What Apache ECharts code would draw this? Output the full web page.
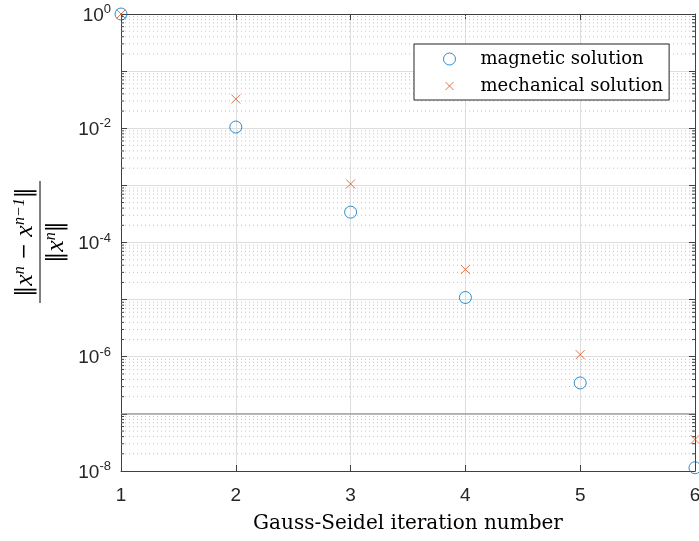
<!DOCTYPE html>
<html>
<head>
<meta charset="utf-8">
<script src="https://cdn.jsdelivr.net/npm/echarts@6/dist/echarts.min.js"></script>
<style>
  html, body { margin: 0; padding: 0; background: #fff; }
  #main { width: 699px; height: 541px; }
</style>
</head>
<body>
<div id="main"></div>
<script>
// iteration numbers on the x axis
const iterations = [1, 2, 3, 4, 5, 6]
// relative change ||x^n - x^(n-1)|| / ||x^n||
const magnetic = [1, 1.05e-2, 3.4e-4, 1.09e-5, 3.48e-7, 1.14e-8]
const mechanical = [1, 3.25e-2, 1.06e-3, 3.37e-5, 1.09e-6, 3.56e-8]
// tolerance line
const tolerance = 1e-7
// decades of the y axis, labels shown on even ones
const decades = [-8, -7, -6, -5, -4, -3, -2, -1, 0]

const axisColor = '#404040'
const labelColor = '#262626'
const sans = 'Liberation Sans, Arial, sans-serif'
const serif = 'DejaVu Serif, serif'
const mathSerif = 'Liberation Serif, serif'

// minor grid values 2..9 x 10^k
let minorValues = []
decades.slice(0, -1).forEach(function (d) {
  for (let m = 2; m <= 9; m++) minorValues.push([iterations[0], m * Math.pow(10, d)])
})

const xMin = iterations[0]
const xMax = iterations[iterations.length - 1]

const chart = echarts.init(document.getElementById('main'), null, { renderer: 'canvas' })

const option = {
  backgroundColor: '#fff',
  animation: false,
  grid: { left: 121, right: 4, top: 14, bottom: 70, containLabel: false, outerBoundsMode: 'none' },
  legend: {
    orient: 'vertical',
    left: 414,
    top: 44,
    padding: [6, 6, 5, 27],
    itemGap: 9,
    itemWidth: 12,
    itemHeight: 12,
    backgroundColor: '#fff',
    borderColor: '#262626',
    borderWidth: 1,
    borderRadius: 0,
    itemStyle: { borderWidth: 1 },
    textStyle: { fontFamily: serif, fontSize: 18, lineHeight: 18, color: '#000', padding: [0, 0, 0, 20] },
    data: [
      { name: 'magnetic solution', icon: 'circle' },
      { name: 'mechanical solution', icon: 'path://M0,0M2,2L10,10M10,2L2,10M12,12' }
    ]
  },
  xAxis: [{
    type: 'value',
    min: xMin,
    max: xMax,
    interval: 1,
    name: 'Gauss-Seidel iteration number',
    nameLocation: 'middle',
    nameGap: 43,
    nameTextStyle: { fontFamily: serif, fontSize: 20, color: '#000' },
    axisLine: { show: true, onZero: false, lineStyle: { color: axisColor, width: 1 } },
    axisTick: { show: true, inside: true, length: 6, lineStyle: { color: axisColor } },
    axisLabel: { fontFamily: sans, fontSize: 19, color: labelColor, margin: 15 },
    splitLine: { show: true, lineStyle: { color: '#dedede', width: 1 } }
  }, {
    type: 'value',
    position: 'top',
    min: xMin,
    max: xMax,
    interval: 1,
    axisLine: { show: true, onZero: false, lineStyle: { color: axisColor, width: 1 } },
    axisTick: { show: true, inside: true, length: 6, lineStyle: { color: axisColor } },
    axisLabel: { show: false },
    splitLine: { show: false }
  }],
  yAxis: [{
    type: 'log',
    logBase: 10,
    min: 1e-8,
    max: 1,
    splitNumber: 8,
    axisLine: { show: true, onZero: false, lineStyle: { color: axisColor, width: 1 } },
    axisTick: { show: true, inside: true, length: 6, lineStyle: { color: axisColor } },
    axisLabel: {
      margin: 10,
      color: labelColor,
      formatter: function (v) {
        const e = Math.round(Math.log10(v))
        return e % 2 === 0 ? '{b|10}{e|' + e + '}' : ''
      },
      rich: {
        b: { fontFamily: sans, fontSize: 19, color: labelColor, lineHeight: 22, verticalAlign: 'bottom' },
        e: { fontFamily: sans, fontSize: 13, color: labelColor, verticalAlign: 'top' }
      }
    },
    splitLine: { show: true, lineStyle: { color: '#dedede', width: 1 } }
  }, {
    type: 'log',
    logBase: 10,
    min: 1e-8,
    max: 1,
    splitNumber: 8,
    position: 'right',
    axisLine: { show: true, onZero: false, lineStyle: { color: axisColor, width: 1 } },
    axisTick: { show: true, inside: true, length: 6, lineStyle: { color: axisColor } },
    axisLabel: { show: false },
    splitLine: { show: false }
  }],
  graphic: [{
    // y axis title: the fraction, rotated to read bottom to top
    type: 'group',
    x: 40,
    y: 242,
    rotation: Math.PI / 2,
    children: [{
      type: 'text',
      x: 0,
      y: -15,
      style: {
        text: '{v|‖}{x|x}{s|n}{m| − }{x|x}{s|n−1}{v|‖}',
        align: 'center',
        verticalAlign: 'middle',
        rich: {
          v: { fontFamily: serif, fontSize: 22, fill: '#000' },
          x: { fontFamily: mathSerif, fontStyle: 'italic', fontSize: 26, fill: '#000' },
          s: { fontFamily: mathSerif, fontStyle: 'italic', fontSize: 16, fill: '#000', verticalAlign: 'top' },
          m: { fontFamily: serif, fontSize: 20, fill: '#000' }
        }
      }
    }, {
      type: 'line',
      shape: { x1: -61, y1: 0, x2: 61, y2: 0 },
      style: { stroke: '#000', lineWidth: 1 }
    }, {
      type: 'text',
      x: 0,
      y: 16,
      style: {
        text: '{v|‖}{x|x}{s|n}{v|‖}',
        align: 'center',
        verticalAlign: 'middle',
        rich: {
          v: { fontFamily: serif, fontSize: 22, fill: '#000' },
          x: { fontFamily: mathSerif, fontStyle: 'italic', fontSize: 26, fill: '#000' },
          s: { fontFamily: mathSerif, fontStyle: 'italic', fontSize: 16, fill: '#000', verticalAlign: 'top' }
        }
      }
    }]
  }],
  series: [{
    // minor grid lines and minor ticks
    type: 'custom',
    silent: true,
    z: 1,
    clip: false,
    data: minorValues,
    encode: { x: 0, y: 1 },
    renderItem: function (params, api) {
      const v = api.value(1)
      const p1 = api.coord([xMin, v])
      const p2 = api.coord([xMax, v])
      return {
        type: 'group',
        children: [{
          type: 'line',
          shape: { x1: p1[0], y1: p1[1], x2: p2[0], y2: p2[1] },
          style: { stroke: '#c4c4c4', lineWidth: 1, lineDash: [1, 3] }
        }, {
          type: 'line',
          shape: { x1: p1[0], y1: p1[1], x2: p1[0] + 3, y2: p1[1] },
          style: { stroke: axisColor, lineWidth: 1 }
        }, {
          type: 'line',
          shape: { x1: p2[0], y1: p2[1], x2: p2[0] - 3, y2: p2[1] },
          style: { stroke: axisColor, lineWidth: 1 }
        }]
      }
    }
  }, {
    // tolerance line across the plot
    type: 'line',
    silent: true,
    z: 3,
    symbol: 'none',
    lineStyle: { color: '#7f7f7f', width: 1 },
    data: [[xMin, tolerance], [xMax, tolerance]]
  }, {
    name: 'magnetic solution',
    type: 'scatter',
    clip: false,
    z: 5,
    symbol: 'circle',
    symbolSize: 12,
    itemStyle: { color: 'rgba(0,0,0,0)', borderColor: '#0072BD', borderWidth: 1 },
    data: iterations.map(function (it, i) { return [it, magnetic[i]] })
  }, {
    name: 'mechanical solution',
    type: 'scatter',
    clip: false,
    z: 5,
    symbol: 'path://M0,0L10,10M10,0L0,10',
    symbolSize: 9,
    symbolKeepAspect: true,
    itemStyle: { color: 'none', borderColor: '#D95319', borderWidth: 1 },
    data: iterations.map(function (it, i) { return [it, mechanical[i]] })
  }]
}

chart.setOption(option)
</script>
</body>
</html>
